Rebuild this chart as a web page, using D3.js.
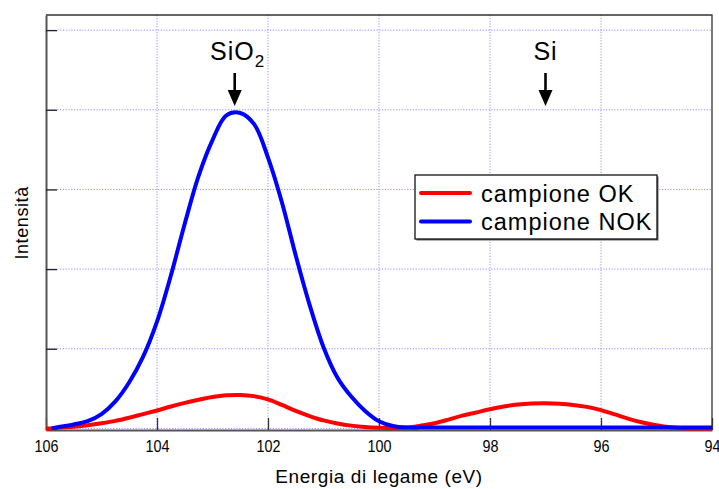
<!DOCTYPE html>
<html>
<head>
<meta charset="utf-8">
<script src="https://cdn.jsdelivr.net/npm/d3@7"></script>
<style>
  body { margin: 0; background: #fff; }
  text { font-family: "Liberation Sans", Arial, sans-serif; fill: #000; }
</style>
</head>
<body>
<div id="grafica"></div>
<script>
// energia di legame (eV)
var energia = [106, 105.9, 105.75, 105.5, 105.25, 105, 104.75, 104.5, 104.25, 104,
  103.75, 103.5, 103.25, 103, 102.75, 102.5, 102.25, 102, 101.75, 101.5,
  101.25, 101, 100.75, 100.5, 100.25, 100, 99.75, 99.5, 99.25, 99,
  98.75, 98.5, 98.25, 98, 97.75, 97.5, 97.25, 97, 96.75, 96.5,
  96.25, 96, 95.75, 95.5, 95.25, 95, 94.75, 94.5, 94.25, 94];

var campioneOK = [0, 0, 0.01, 0.02, 0.04, 0.065, 0.095, 0.135, 0.18, 0.225,
  0.275, 0.32, 0.36, 0.395, 0.415, 0.42, 0.405, 0.365, 0.295, 0.22,
  0.155, 0.10, 0.062, 0.035, 0.018, 0.008, 0.003, 0.012, 0.035, 0.065,
  0.11, 0.16, 0.20, 0.24, 0.275, 0.30, 0.313, 0.316, 0.31, 0.295,
  0.27, 0.23, 0.175, 0.12, 0.075, 0.04, 0.015, 0.003, 0, 0];

var campioneNOK = [null, 0, 0.02, 0.05, 0.09, 0.18, 0.34, 0.58, 0.90, 1.34,
  1.92, 2.57, 3.17, 3.62, 3.93, 3.96, 3.82, 3.40, 2.84, 2.17,
  1.55, 1.02, 0.64, 0.40, 0.22, 0.09, 0.03, 0.01, 0.01, 0.01,
  0.01, 0.01, 0.01, 0.01, 0.01, 0.01, 0.01, 0.01, 0.01, 0.01,
  0.01, 0.01, 0.01, 0.01, 0.01, 0.01, 0.01, 0.01, 0.01, 0.01];

var serie = [
  {nome: "campione OK", valori: campioneOK, colore: "#ff0000"},
  {nome: "campione NOK", valori: campioneNOK, colore: "#0000ff"}
];

var xTicks = [106, 104, 102, 100, 98, 96, 94];
var yTicks = [0, 1, 2, 3, 4, 5];
var picchi = [{nome: "SiO", sub: "2", e: 102.6}, {nome: "Si", sub: "", e: 97.0}];

var width = 719, height = 489;
var margin = {top: 15, right: 7, bottom: 59, left: 46};

var svg = d3.select("#grafica")
  .append("svg")
  .attr("width", width)
  .attr("height", height);

var x = d3.scaleLinear()
  .domain([106, 94])
  .range([margin.left, width - margin.right]);

var y = d3.scaleLinear()
  .domain([-0.02, 5.19])
  .range([height - margin.bottom, margin.top]);

// griglia
svg.append("g")
  .selectAll("line")
  .data(xTicks.slice(1, -1))
  .enter()
  .append("line")
    .attr("x1", function(d) { return x(d); })
    .attr("x2", function(d) { return x(d); })
    .attr("y1", margin.top)
    .attr("y2", height - margin.bottom)
    .attr("stroke", "#9090ff")
    .attr("stroke-width", 1)
    .attr("stroke-dasharray", "1.2,1.6");

svg.append("g")
  .selectAll("line")
  .data(yTicks)
  .enter()
  .append("line")
    .attr("x1", margin.left)
    .attr("x2", width - margin.right)
    .attr("y1", function(d) { return y(d); })
    .attr("y2", function(d) { return y(d); })
    .attr("stroke", "#9090ff")
    .attr("stroke-width", 1)
    .attr("stroke-dasharray", "1.2,1.6");

// cornice sopra e a destra
svg.append("path")
  .attr("d", "M" + margin.left + "," + margin.top + "H" + (width - margin.right) + "V" + (height - margin.bottom))
  .attr("fill", "none")
  .attr("stroke", "#333")
  .attr("stroke-width", 1.3);

// assi
var xAxis = svg.append("g")
  .attr("transform", "translate(0," + (height - margin.bottom) + ")")
  .call(d3.axisBottom(x).tickValues(xTicks).tickSizeInner(-12).tickSizeOuter(0).tickPadding(10).tickFormat(d3.format("d")));
xAxis.select(".domain").attr("stroke", "#555").attr("stroke-width", 2);
xAxis.selectAll(".tick line").attr("stroke", "#333").attr("stroke-width", 1.3);
xAxis.selectAll("text")
  .style("font-size", "16.5px")
  .style("font-family", "Liberation Sans, Arial, sans-serif")
  .attr("transform", "scale(0.87,1)");

var yAxis = svg.append("g")
  .attr("transform", "translate(" + margin.left + ",0)")
  .call(d3.axisLeft(y).tickValues(yTicks).tickSizeInner(-11).tickSizeOuter(0).tickFormat(""));
yAxis.select(".domain").attr("stroke", "#555").attr("stroke-width", 2);
yAxis.selectAll(".tick line").attr("stroke", "#222").attr("stroke-width", 1.3);

// titoli assi
svg.append("text")
  .attr("x", x(100))
  .attr("y", 483)
  .attr("text-anchor", "middle")
  .style("font-size", "19px")
  .style("letter-spacing", "0.6px")
  .text("Energia di legame (eV)");

svg.append("text")
  .attr("transform", "translate(28," + y(2.58) + ")rotate(-90)")
  .attr("text-anchor", "middle")
  .style("font-size", "18px")
  .style("letter-spacing", "0.6px")
  .text("Intensità");

// curve
var line = d3.line()
  .defined(function(d) { return d[1] != null; })
  .x(function(d) { return x(d[0]); })
  .y(function(d) { return y(d[1]); })
  .curve(d3.curveCatmullRom.alpha(0.5));

svg.selectAll(".serie")
  .data(serie)
  .enter()
  .append("path")
    .attr("class", "serie")
    .attr("fill", "none")
    .attr("stroke", function(d) { return d.colore; })
    .attr("stroke-width", 4)
    .attr("stroke-linejoin", "round")
    .attr("d", function(d) { return line(energia.map(function(e, i) { return [e, d.valori[i]]; })); });

// etichette dei picchi con freccia
var picco = svg.selectAll(".picco")
  .data(picchi)
  .enter()
  .append("g")
    .attr("class", "picco")
    .attr("transform", function(d) { return "translate(" + x(d.e) + ",0)"; });

var lbl = picco.append("text")
  .attr("x", function(d) { return d.sub ? 3 : 0; })
  .attr("y", 60)
  .attr("text-anchor", "middle")
  .style("font-size", "25px")
  .style("letter-spacing", "1px")
  .text(function(d) { return d.nome; });
lbl.append("tspan")
  .attr("dy", 7)
  .style("font-size", "17px")
  .text(function(d) { return d.sub; });

picco.append("line")
  .attr("x1", 0).attr("x2", 0)
  .attr("y1", 73).attr("y2", 92)
  .attr("stroke", "#000")
  .attr("stroke-width", 2.6);
picco.append("path")
  .attr("d", "M-7,90L7,90L0,106Z")
  .attr("fill", "#000");

// legenda
var leg = svg.append("g").attr("transform", "translate(415,175)");
leg.append("rect")
  .attr("x", 1.5).attr("y", 1.5)
  .attr("width", 242).attr("height", 64)
  .attr("fill", "#666");
leg.append("rect")
  .attr("width", 242).attr("height", 64)
  .attr("fill", "#fff")
  .attr("stroke", "#111")
  .attr("stroke-width", 1.3);

var voce = leg.selectAll(".voce")
  .data(serie)
  .enter()
  .append("g")
    .attr("class", "voce")
    .attr("transform", function(d, i) { return "translate(0," + (18 + i * 28.5) + ")"; });
voce.append("line")
  .attr("x1", 6).attr("x2", 55)
  .attr("stroke", function(d) { return d.colore; })
  .attr("stroke-width", 4)
  .attr("stroke-linecap", "round");
voce.append("text")
  .attr("x", 66)
  .attr("y", 8.5)
  .style("font-size", "23.5px")
  .style("letter-spacing", "1px")
  .text(function(d) { return d.nome; });
</script>
</body>
</html>
